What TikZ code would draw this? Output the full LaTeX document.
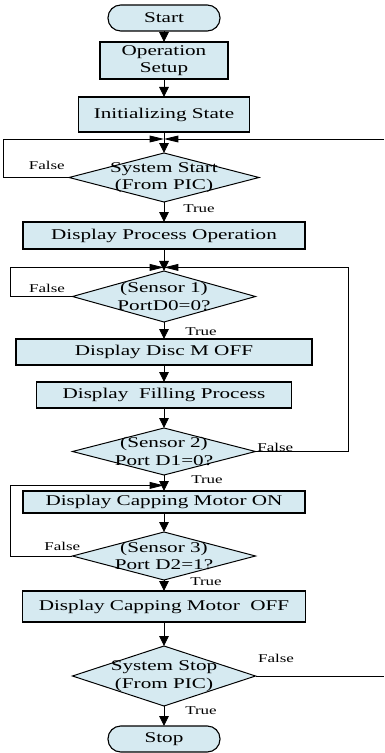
\documentclass[tikz,border=0pt]{standalone}
\usepackage{fontspec}
\setmainfont{Liberation Serif}[FakeStretch=1.42]
\usepackage{tikz}
\usetikzlibrary{shapes,arrows.meta,positioning}
\definecolor{boxblue}{RGB}{214,234,241}

\begin{document}
\begin{tikzpicture}[
    node distance=0.45cm,
    box/.style={rectangle, draw, fill=boxblue, line width=0.8pt, inner sep=1pt, outer sep=0pt, align=center, font=\fontsize{10.6}{12.4}\selectfont},
    term/.style={box, rounded corners=0.32cm, minimum width=2.8cm, minimum height=0.65cm},
    decision/.style={diamond, draw, fill=boxblue, line width=0.7pt, inner sep=0pt, outer sep=0pt, minimum width=4.575cm},
    dtext/.style={align=center, inner sep=0pt, font=\fontsize{10.6}{12.4}\selectfont},
    lbl/.style={inner sep=0pt, font=\fontsize{8.5}{10}\selectfont},
    arrow/.style={-{Triangle[length=0.25cm,width=0.24cm]}, line width=0.6pt},
    sidearrow/.style={-{Triangle[length=0.36cm,width=0.17cm]}, line width=0.6pt},
    line/.style={line width=0.6pt}
]
\useasboundingbox (-4.1,0) rectangle (5.5,-18.825);

\node[term] (start) at (0,-0.45) {Start};
\node[box, below=0.275cm of start, minimum width=3.2cm, minimum height=0.925cm] (setup) {Operation\\Setup};
\node[box, below=of setup, minimum width=4.275cm, minimum height=0.875cm] (init) {Initializing State};
\node[decision, below=0.525cm of init, minimum width=4.75cm, minimum height=1.225cm,
      label={[dtext]center:{System Start\\(From PIC)}}] (sstart) {};
\node[box, below=0.5cm of sstart, minimum width=7.05cm, minimum height=0.675cm] (procop) {Display Process Operation};
\node[decision, below=0.55cm of procop, minimum height=1.275cm,
      label={[dtext]center:{(Sensor 1)\\PortD0=0?}}] (sens1) {};
\node[box, below=0.425cm of sens1, minimum width=7.4cm, minimum height=0.65cm] (discoff) {Display Disc M OFF};
\node[box, below=0.425cm of discoff, minimum width=6.375cm, minimum height=0.65cm] (filling) {Display\ \ Filling Process};
\node[decision, below=0.5cm of filling, minimum height=1.175cm,
      label={[dtext]center:{(Sensor 2)\\Port D1=0?}}] (sens2) {};
\node[box, below=0.4cm of sens2, minimum width=7.05cm, minimum height=0.55cm] (capon) {Display Capping Motor ON};
\node[decision, below=0.475cm of capon, minimum height=1.2cm,
      label={[dtext]center:{(Sensor 3)\\Port D2=1?}}] (sens3) {};
\node[box, below=0.275cm of sens3, minimum width=7.075cm, minimum height=0.775cm] (capoff) {Display Capping Motor\ \ OFF};
\node[decision, below=0.6cm of capoff, minimum height=1.5cm,
      label={[dtext]center:{System Stop\\(From PIC)}}] (sstop) {};
\node[term, below=0.5cm of sstop] (stop) {Stop};

% junctions where the loops come back
\coordinate[below=0.175cm of init] (j1);
\coordinate[below=0.46cm of procop] (j2);
\coordinate[below=0.26cm of sens2] (j3);
\coordinate (rtop) at ([xshift=5.5cm]j1);
\coordinate (rbot) at (sstop.east -| rtop);

% labels
\node[lbl, anchor=south east] (f1) at ([shift={(-0.1,0.2)}]sstart.west) {False};
\node[lbl, anchor=north west] (t1) at ([shift={(0.475,-0.06)}]sstart.south) {True};
\node[lbl, anchor=south east] (f2) at ([shift={(-0.18,0.1)}]sens1.west) {False};
\node[lbl, anchor=north west] (t2) at ([shift={(0.525,-0.14)}]sens1.south) {True};
\node[lbl, anchor=south west] (f3) at ([shift={(0.04,0)}]sens2.east) {False};
\node[lbl, anchor=north west] (t3) at ([shift={(0.675,0)}]sens2.south) {True};
\node[lbl, anchor=south east] (f4) at ([shift={(0.2,0.125)}]sens3.west) {False};
\node[lbl, anchor=north west] (t4) at ([shift={(0.65,0.06)}]sens3.south) {True};
\node[lbl, anchor=south west] (f5) at ([shift={(0.06,0.34)}]sstop.east) {False};
\node[lbl, anchor=north west] (t5) at ([shift={(0.525,0)}]sstop.south) {True};

\draw[arrow] (start) -- (setup);
\draw[arrow] (setup) -- (init);
\draw[arrow] (init) -- (sstart);
\draw[arrow] (sstart) -- (procop);
\draw[arrow] (procop) -- (sens1);
\draw[arrow] (sens1) -- (discoff);
\draw[arrow] (discoff) -- (filling);
\draw[arrow] (filling) -- (sens2);
\draw[arrow] (sens2) -- (capon);
\draw[arrow] (capon) -- (sens3);
\draw[arrow] (sens3) -- (capoff);
\draw[arrow] (capoff) -- (sstop);
\draw[arrow] (sstop) -- (stop);

\draw[sidearrow] (sstart.west) -- ++(-1.65,0) |- (j1);
\draw[sidearrow] (rtop) -- (j1);
\draw[line] (sstop.east) -- (rbot);
\draw[sidearrow] (sens1.west) -- ++(-1.5625,0) |- (j2);
\draw[sidearrow] (sens2.east) -- ++(2.3125,0) |- (j2);
\draw[sidearrow] (sens3.west) -- ++(-1.5625,0) |- (j3);
\end{tikzpicture}
\end{document}
